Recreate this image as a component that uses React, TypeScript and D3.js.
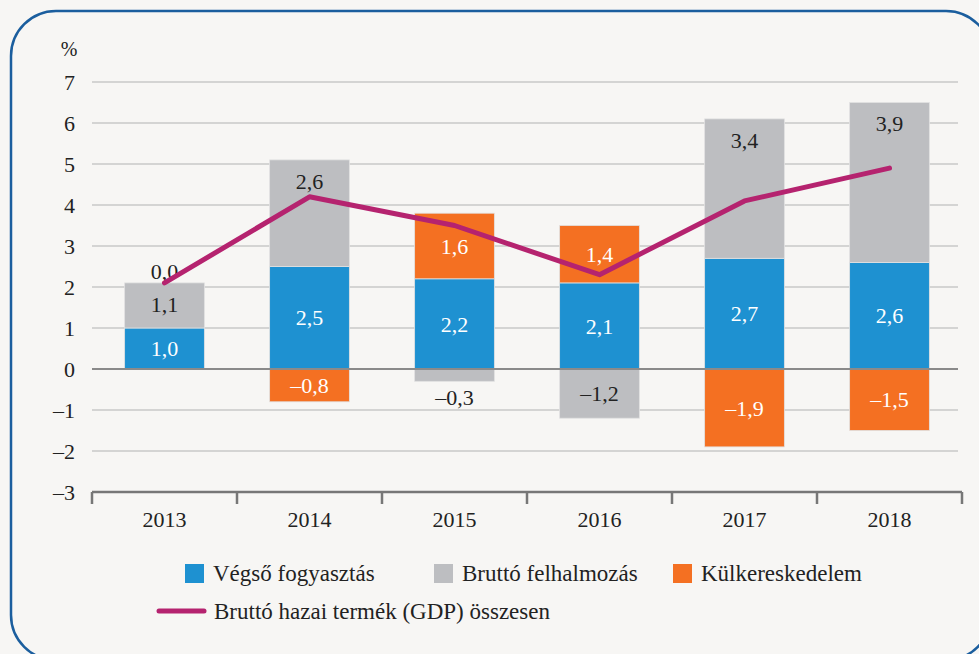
import React, { useEffect, useRef } from 'react'
import * as d3 from 'd3'

const years = ['2013', '2014', '2015', '2016', '2017', '2018']
const consumption = [1.0, 2.5, 2.2, 2.1, 2.7, 2.6]
const accumulation = [1.1, 2.6, -0.3, -1.2, 3.4, 3.9]
const trade = [0.0, -0.8, 1.6, 1.4, -1.9, -1.5]
const gdp = [2.1, 4.2, 3.5, 2.3, 4.1, 4.9]
const yTicks = [7, 6, 5, 4, 3, 2, 1, 0, -1, -2, -3]

const seriesNames = ['Végső fogyasztás', 'Bruttó felhalmozás', 'Külkereskedelem']
const lineName = 'Bruttó hazai termék (GDP) összesen'

const W = 979
const H = 654
const FONT = "'Liberation Serif', 'Times New Roman', serif"

const fmt = (v: number) => (v < 0 ? '–' : '') + Math.abs(v).toFixed(1).replace('.', ',')

export default function App() {
  const ref = useRef<SVGSVGElement>(null)

  useEffect(() => {
    const svg = d3.select(ref.current)
    svg.selectAll('*').remove()

    svg.append('rect').attr('width', W).attr('height', H).attr('fill', '#f7f6f4')
    svg.append('rect')
      .attr('x', 11).attr('y', 11)
      .attr('width', 980).attr('height', 649)
      .attr('rx', 45)
      .attr('fill', 'none')
      .attr('stroke', '#1b5e9e')
      .attr('stroke-width', 2.5)

    const x = d3.scaleBand().domain(years).range([92, 962]).paddingInner(0.45).paddingOuter(0.225)
    const y = d3.scaleLinear().domain([-3, 7]).range([492, 82])

    const colors = ['#1e91d1', '#bdbec1', '#f47022']
    const keys = ['c', 'a', 't']
    const rows = years.map((yr, i) => ({ year: yr, c: consumption[i], a: accumulation[i], t: trade[i] }))
    const stacked = d3.stack<any>().keys(keys).offset(d3.stackOffsetDiverging)(rows)
    const posTotal = rows.map(r => keys.reduce((s, k) => s + Math.max(0, r[k]), 0))

    // grid
    svg.append('g')
      .selectAll('line')
      .data(yTicks.filter(t => t !== 0 && t !== -3))
      .enter()
      .append('line')
      .attr('x1', 92).attr('x2', 958)
      .attr('y1', d => y(d)).attr('y2', d => y(d))
      .attr('stroke', '#c9c8c8')
      .attr('stroke-width', 1.5)

    // y tick labels
    svg.append('g')
      .selectAll('text')
      .data(yTicks)
      .enter()
      .append('text')
      .attr('x', 75)
      .attr('y', d => y(d))
      .attr('dy', '0.35em')
      .attr('text-anchor', 'end')
      .style('font-family', FONT)
      .style('font-size', '22px')
      .attr('fill', '#222')
      .text(d => (d < 0 ? '–' : '') + Math.abs(d))

    svg.append('text')
      .attr('x', 69).attr('y', 56)
      .attr('text-anchor', 'middle')
      .style('font-family', FONT)
      .style('font-size', '20px')
      .attr('fill', '#222')
      .text('%')

    // bars
    stacked.forEach((layer, li) => {
      svg.append('g')
        .selectAll('rect')
        .data(layer)
        .enter()
        .append('rect')
        .attr('x', d => x(d.data.year)!)
        .attr('width', x.bandwidth())
        .attr('y', d => y(Math.max(d[0], d[1])))
        .attr('height', d => Math.abs(y(d[0]) - y(d[1])))
        .attr('fill', colors[li])
        .attr('stroke', '#e2e2e2')
        .attr('stroke-width', 0.8)
    })

    // zero line
    svg.append('line')
      .attr('x1', 92).attr('x2', 958)
      .attr('y1', y(0)).attr('y2', y(0))
      .attr('stroke', '#8a8a8a')
      .attr('stroke-width', 2)

    // bar labels
    stacked.forEach((layer, li) => {
      svg.append('g')
        .selectAll('text')
        .data(layer)
        .enter()
        .append('text')
        .attr('x', d => x(d.data.year)! + x.bandwidth() / 2)
        .attr('y', (d, i) => {
          const v = d.data[keys[li]]
          const top = y(Math.max(d[0], d[1]))
          const bot = y(Math.min(d[0], d[1]))
          const h = bot - top
          if (Math.abs(v) < 0.05) return y(posTotal[i]) - 12
          if (h < 20) return v < 0 ? bot + 16 : top - 12
          if (li === 1 && v > 0) return top + Math.min(21, h / 2)
          return (top + bot) / 2
        })
        .attr('dy', '0.35em')
        .attr('text-anchor', 'middle')
        .style('font-family', FONT)
        .style('font-size', '22px')
        .attr('fill', d => {
          const h = Math.abs(y(d[0]) - y(d[1]))
          if (li === 1 || h < 20) return '#222'
          return '#fff'
        })
        .text(d => fmt(d.data[keys[li]]))
    })

    // GDP line
    const line = d3.line<number>()
      .x((d, i) => x(years[i])! + x.bandwidth() / 2)
      .y(d => y(d))
    svg.append('path')
      .datum(gdp)
      .attr('d', line)
      .attr('fill', 'none')
      .attr('stroke', '#b5236f')
      .attr('stroke-width', 5)
      .attr('stroke-linecap', 'round')
      .attr('stroke-linejoin', 'round')

    // x axis
    const axis = svg.append('g')
    axis.append('line')
      .attr('x1', 92).attr('x2', 962)
      .attr('y1', 492).attr('y2', 492)
      .attr('stroke', '#777').attr('stroke-width', 2.5)
    const bounds = years.map(yr => x(yr)! - (x.step() - x.bandwidth()) / 2).concat([962])
    axis.selectAll('line.tick')
      .data(bounds)
      .enter()
      .append('line')
      .attr('class', 'tick')
      .attr('x1', d => d).attr('x2', d => d)
      .attr('y1', 492).attr('y2', 504)
      .attr('stroke', '#777').attr('stroke-width', 2.5)
    axis.selectAll('text')
      .data(years)
      .enter()
      .append('text')
      .attr('x', d => x(d)! + x.bandwidth() / 2)
      .attr('y', 527)
      .attr('text-anchor', 'middle')
      .style('font-family', FONT)
      .style('font-size', '22px')
      .attr('fill', '#222')
      .text(d => d)

    // legend
    const legendX = [185, 434, 673]
    const lg = svg.append('g')
    seriesNames.forEach((name, i) => {
      lg.append('rect')
        .attr('x', legendX[i]).attr('y', 564)
        .attr('width', 19).attr('height', 19)
        .attr('fill', colors[i])
      lg.append('text')
        .attr('x', legendX[i] + 28).attr('y', 581)
        .style('font-family', FONT)
        .style('font-size', '23px')
        .attr('fill', '#222')
        .text(name)
    })
    lg.append('line')
      .attr('x1', 159).attr('x2', 204)
      .attr('y1', 611).attr('y2', 611)
      .attr('stroke', '#b5236f').attr('stroke-width', 5)
      .attr('stroke-linecap', 'round')
    lg.append('text')
      .attr('x', 214).attr('y', 619)
      .style('font-family', FONT)
      .style('font-size', '23px')
      .attr('fill', '#222')
      .text(lineName)
  }, [])

  return (
    <div style={{ position: 'absolute', left: 0, top: 0 }}>
      <svg ref={ref} width={W} height={H} style={{ display: 'block' }} />
    </div>
  )
}
